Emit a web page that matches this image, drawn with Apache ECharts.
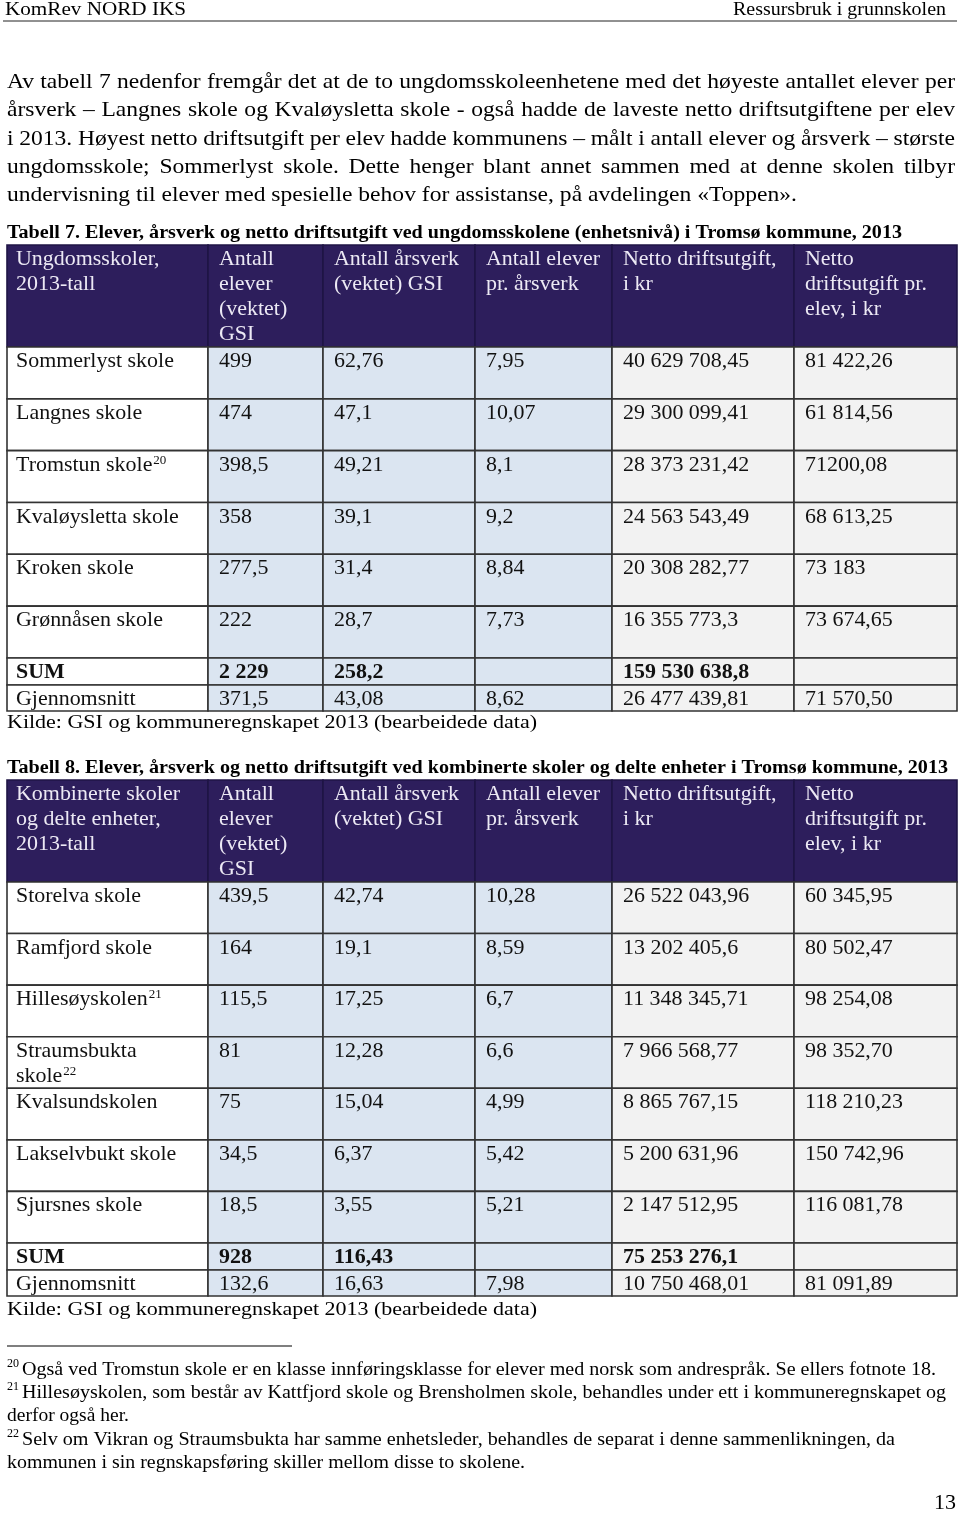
<!DOCTYPE html>
<html>
<head>
<meta charset="utf-8">
<script src="https://cdn.jsdelivr.net/npm/echarts@6/dist/echarts.min.js"></script>
<style>
  html, body { margin: 0; background: #fff; }
  #chart { width: 960px; height: 1514px; }
</style>
</head>
<body>
<div id="chart"></div>
<script>
// ---- data ----
const paragraph = [
  'Av tabell 7 nedenfor fremgår det at de to ungdomsskoleenhetene med det høyeste antallet elever per',
  'årsverk – Langnes skole og Kvaløysletta skole - også hadde de laveste netto driftsutgiftene per elev',
  'i 2013. Høyest netto driftsutgift per elev hadde kommunens – målt i antall elever og årsverk – største',
  'ungdomsskole; Sommerlyst skole. Dette henger blant annet sammen med at denne skolen tilbyr',
  'undervisning til elever med spesielle behov for assistanse, på avdelingen «Toppen».'
]

const title7 = 'Tabell 7. Elever, årsverk og netto driftsutgift ved ungdomsskolene (enhetsnivå) i Tromsø kommune, 2013'
const header7 = ['Ungdomsskoler,\n2013-tall', 'Antall\nelever\n(vektet)\nGSI', 'Antall årsverk\n(vektet) GSI', 'Antall elever\npr. årsverk', 'Netto driftsutgift,\ni kr', 'Netto\ndriftsutgift pr.\nelev, i kr']
const schools7 = ['Sommerlyst skole', 'Langnes skole', 'Tromstun skole', 'Kvaløysletta skole', 'Kroken skole', 'Grønnåsen skole']
const notes7 = ['', '', '20', '', '', '']
const elever7 = ['499', '474', '398,5', '358', '277,5', '222']
const arsverk7 = ['62,76', '47,1', '49,21', '39,1', '31,4', '28,7']
const perArsverk7 = ['7,95', '10,07', '8,1', '9,2', '8,84', '7,73']
const netto7 = ['40 629 708,45', '29 300 099,41', '28 373 231,42', '24 563 543,49', '20 308 282,77', '16 355 773,3']
const perElev7 = ['81 422,26', '61 814,56', '71200,08', '68 613,25', '73 183', '73 674,65']
const sum7 = ['SUM', '2 229', '258,2', '', '159 530 638,8', '']
const avg7 = ['Gjennomsnitt', '371,5', '43,08', '8,62', '26 477 439,81', '71 570,50']

const title8 = 'Tabell 8. Elever, årsverk og netto driftsutgift ved kombinerte skoler og delte enheter i Tromsø kommune, 2013'
const header8 = ['Kombinerte skoler\nog delte enheter,\n2013-tall', 'Antall\nelever\n(vektet)\nGSI', 'Antall årsverk\n(vektet) GSI', 'Antall elever\npr. årsverk', 'Netto driftsutgift,\ni kr', 'Netto\ndriftsutgift pr.\nelev, i kr']
const schools8 = ['Storelva skole', 'Ramfjord skole', 'Hillesøyskolen', 'Straumsbukta\nskole', 'Kvalsundskolen', 'Lakselvbukt skole', 'Sjursnes skole']
const notes8 = ['', '', '21', '22', '', '', '']
const elever8 = ['439,5', '164', '115,5', '81', '75', '34,5', '18,5']
const arsverk8 = ['42,74', '19,1', '17,25', '12,28', '15,04', '6,37', '3,55']
const perArsverk8 = ['10,28', '8,59', '6,7', '6,6', '4,99', '5,42', '5,21']
const netto8 = ['26 522 043,96', '13 202 405,6', '11 348 345,71', '7 966 568,77', '8 865 767,15', '5 200 631,96', '2 147 512,95']
const perElev8 = ['60 345,95', '80 502,47', '98 254,08', '98 352,70', '118 210,23', '150 742,96', '116 081,78']
const sum8 = ['SUM', '928', '116,43', '', '75 253 276,1', '']
const avg8 = ['Gjennomsnitt', '132,6', '16,63', '7,98', '10 750 468,01', '81 091,89']

const source = 'Kilde: GSI og kommuneregnskapet 2013 (bearbeidede data)'
const footnotes = [
  { no: '20', lines: ['Også ved Tromstun skole er en klasse innføringsklasse for elever med norsk som andrespråk. Se ellers fotnote 18.'] },
  { no: '21', lines: ['Hillesøyskolen, som består av Kattfjord skole og Brensholmen skole, behandles under ett i kommuneregnskapet og', 'derfor også her.'] },
  { no: '22', lines: ['Selv om Vikran og Straumsbukta har samme enhetsleder, behandles de separat i denne sammenlikningen, da', 'kommunen i sin regnskapsføring skiller mellom disse to skolene.'] }
]

// ---- layout ----
const FONT = '"Liberation Serif", "Times New Roman", serif'
const HEAD_BG = '#2d1e5c'
const HEAD_TEXT = '#ece9f4'
const BLUE = '#dbe5f1'
const GRAY = '#f2f2f2'
const BORDER = '#333'
const COL_EDGES = [0, 201, 316, 468, 605, 787, 950]
const TABLE_LEFT = 7
const TABLE_WIDTH = 950
const CELL_SIZE = 21
const CELL_SCALE = 1.045

const measureCtx = document.createElement('canvas').getContext('2d')
const textWidth = (t, size, weight) => {
  measureCtx.font = `${weight || 'normal'} ${size}px ${FONT}`
  return measureCtx.measureText(t).width
}

// text stretched to a given width
const fitText = (t, left, y, width, size, weight) => ({
  type: 'text',
  x: left,
  y: y,
  scaleX: width / textWidth(t, size, weight),
  silent: true,
  style: { text: t, x: 0, y: 0, font: `${weight || 'normal'} ${size}px ${FONT}`, fill: '#000', verticalAlign: 'middle' },
})

const rowEdges = (nRows, rowH) => {
  const edges = [0, 102]
  for (let i = 0; i < nRows; i++) edges.push(102 + rowH * (i + 1))
  const last = edges[edges.length - 1]
  edges.push(last + 27, last + 53)
  return edges
}

const buildCells = (header, names, notes, cols, sumRow, avgRow) => {
  const cells = []
  header.forEach((h, c) => cells.push({ col: c, row: 0, text: h, kind: 'head' }))
  names.forEach((n, r) => {
    cells.push({ col: 0, row: r + 1, text: n, note: notes[r], kind: 'body' })
    cols.forEach((arr, c) => cells.push({ col: c + 1, row: r + 1, text: arr[r], kind: 'body' }))
  })
  sumRow.forEach((t, c) => cells.push({ col: c, row: names.length + 1, text: t, kind: 'sum' }))
  avgRow.forEach((t, c) => cells.push({ col: c, row: names.length + 2, text: t, kind: 'body' }))
  return cells
}

const cells7 = buildCells(header7, schools7, notes7, [elever7, arsverk7, perArsverk7, netto7, perElev7], sum7, avg7)
const cells8 = buildCells(header8, schools8, notes8, [elever8, arsverk8, perArsverk8, netto8, perElev8], sum8, avg8)
const edges7 = rowEdges(schools7.length, 51.83)
const edges8 = rowEdges(schools8.length, 51.57)

const makeRender = (cells, edges) => (params, api) => {
  const c = cells[params.dataIndex]
  const a = api.coord([COL_EDGES[c.col], edges[c.row]])
  const b = api.coord([COL_EDGES[c.col + 1], edges[c.row + 1]])
  const head = c.kind === 'head'
  const fill = head ? HEAD_BG : c.col === 0 ? '#fff' : c.col <= 3 ? BLUE : GRAY
  const pad = c.col === 0 ? 9 : 11
  const weight = c.kind === 'sum' ? 'bold' : 'normal'
  const children = [
    {
      type: 'rect',
      shape: { x: a[0], y: a[1], width: b[0] - a[0], height: b[1] - a[1] },
      style: { fill, stroke: head ? '#1f1445' : BORDER, lineWidth: 1.6 },
    },
    {
      type: 'text',
      x: a[0] + pad,
      y: a[1] + 2,
      scaleX: CELL_SCALE,
      style: {
        text: c.text,
        x: 0,
        y: 0,
        font: `${weight} ${CELL_SIZE}px ${FONT}`,
        fill: head ? HEAD_TEXT : '#111',
        lineHeight: 25,
        verticalAlign: 'top',
      },
    },
  ]
  if (c.note) {
    const lines = c.text.split('\n')
    const w = textWidth(lines[lines.length - 1], CELL_SIZE) * CELL_SCALE
    children.push({
      type: 'text',
      x: a[0] + pad + w + 1,
      y: a[1] + 3 + (lines.length - 1) * 25,
      style: { text: c.note, font: `13px ${FONT}`, fill: '#111', verticalAlign: 'top' },
    })
  }
  return { type: 'group', children }
}

// ---- page text ----
const graphics = []
graphics.push(fitText('KomRev NORD IKS', 5, 10, 181, 19))
graphics.push(fitText('Ressursbruk i grunnskolen', 733, 10, 213, 19))
graphics.push({ type: 'line', silent: true, shape: { x1: 3, y1: 21, x2: 957, y2: 21 }, style: { stroke: '#222', lineWidth: 1 } })

// justified paragraph
const paraY = [82, 110, 139, 167, 195]
const paraSize = 21
const paraScale = 790 / textWidth(paragraph[4], paraSize)
paragraph.forEach((line, i) => {
  const words = line.split(' ')
  const widths = words.map((w) => textWidth(w, paraSize) * paraScale)
  const total = widths.reduce((s, w) => s + w, 0)
  const last = i === paragraph.length - 1
  const gap = last ? textWidth(' ', paraSize) * paraScale : (948 - total) / (words.length - 1)
  let x = 7
  words.forEach((w, k) => {
    graphics.push({
      type: 'text', x: x, y: paraY[i], scaleX: paraScale, silent: true,
      style: { text: w, x: 0, y: 0, font: `${paraSize}px ${FONT}`, fill: '#000', verticalAlign: 'middle' },
    })
    x += widths[k] + gap
  })
})

graphics.push(fitText(title7, 7, 233, 895, 18, 'bold'))
graphics.push(fitText(source, 7, 723, 530, 18))
graphics.push(fitText(title8, 7, 768, 941, 18, 'bold'))
graphics.push(fitText(source, 7, 1310, 530, 18))

// footnotes
graphics.push({ type: 'line', silent: true, shape: { x1: 7, y1: 1346, x2: 292, y2: 1346 }, style: { stroke: '#000', lineWidth: 1.2 } })
const footY = [[1370], [1393, 1416], [1440, 1463]]
const footW = [[914], [924, 122], [873, 518]]
footnotes.forEach((f, i) => {
  graphics.push({
    type: 'text', x: 7, y: footY[i][0] - 6, silent: true,
    style: { text: f.no, font: `12px ${FONT}`, fill: '#000', verticalAlign: 'middle' },
  })
  f.lines.forEach((l, k) => {
    graphics.push(fitText(l, k === 0 ? 22 : 7, footY[i][k], footW[i][k], 18))
  })
})
graphics.push(fitText('13', 934, 1503, 22, 21))

const chart = echarts.init(document.getElementById('chart'))
chart.setOption({
  backgroundColor: '#fff',
  animation: false,
  grid: [
    { left: TABLE_LEFT, top: 245, width: TABLE_WIDTH, height: edges7[edges7.length - 1] },
    { left: TABLE_LEFT, top: 780, width: TABLE_WIDTH, height: edges8[edges8.length - 1] },
  ],
  xAxis: [
    { type: 'value', gridIndex: 0, min: 0, max: TABLE_WIDTH, show: false },
    { type: 'value', gridIndex: 1, min: 0, max: TABLE_WIDTH, show: false },
  ],
  yAxis: [
    { type: 'value', gridIndex: 0, min: 0, max: edges7[edges7.length - 1], inverse: true, show: false },
    { type: 'value', gridIndex: 1, min: 0, max: edges8[edges8.length - 1], inverse: true, show: false },
  ],
  series: [
    {
      type: 'custom', xAxisIndex: 0, yAxisIndex: 0, clip: false, silent: true,
      data: cells7.map((c) => [c.col, c.row]),
      renderItem: makeRender(cells7, edges7),
    },
    {
      type: 'custom', xAxisIndex: 1, yAxisIndex: 1, clip: false, silent: true,
      data: cells8.map((c) => [c.col, c.row]),
      renderItem: makeRender(cells8, edges8),
    },
  ],
  graphic: graphics,
})

window.addEventListener('resize', () => chart.resize())
</script>
</body>
</html>
